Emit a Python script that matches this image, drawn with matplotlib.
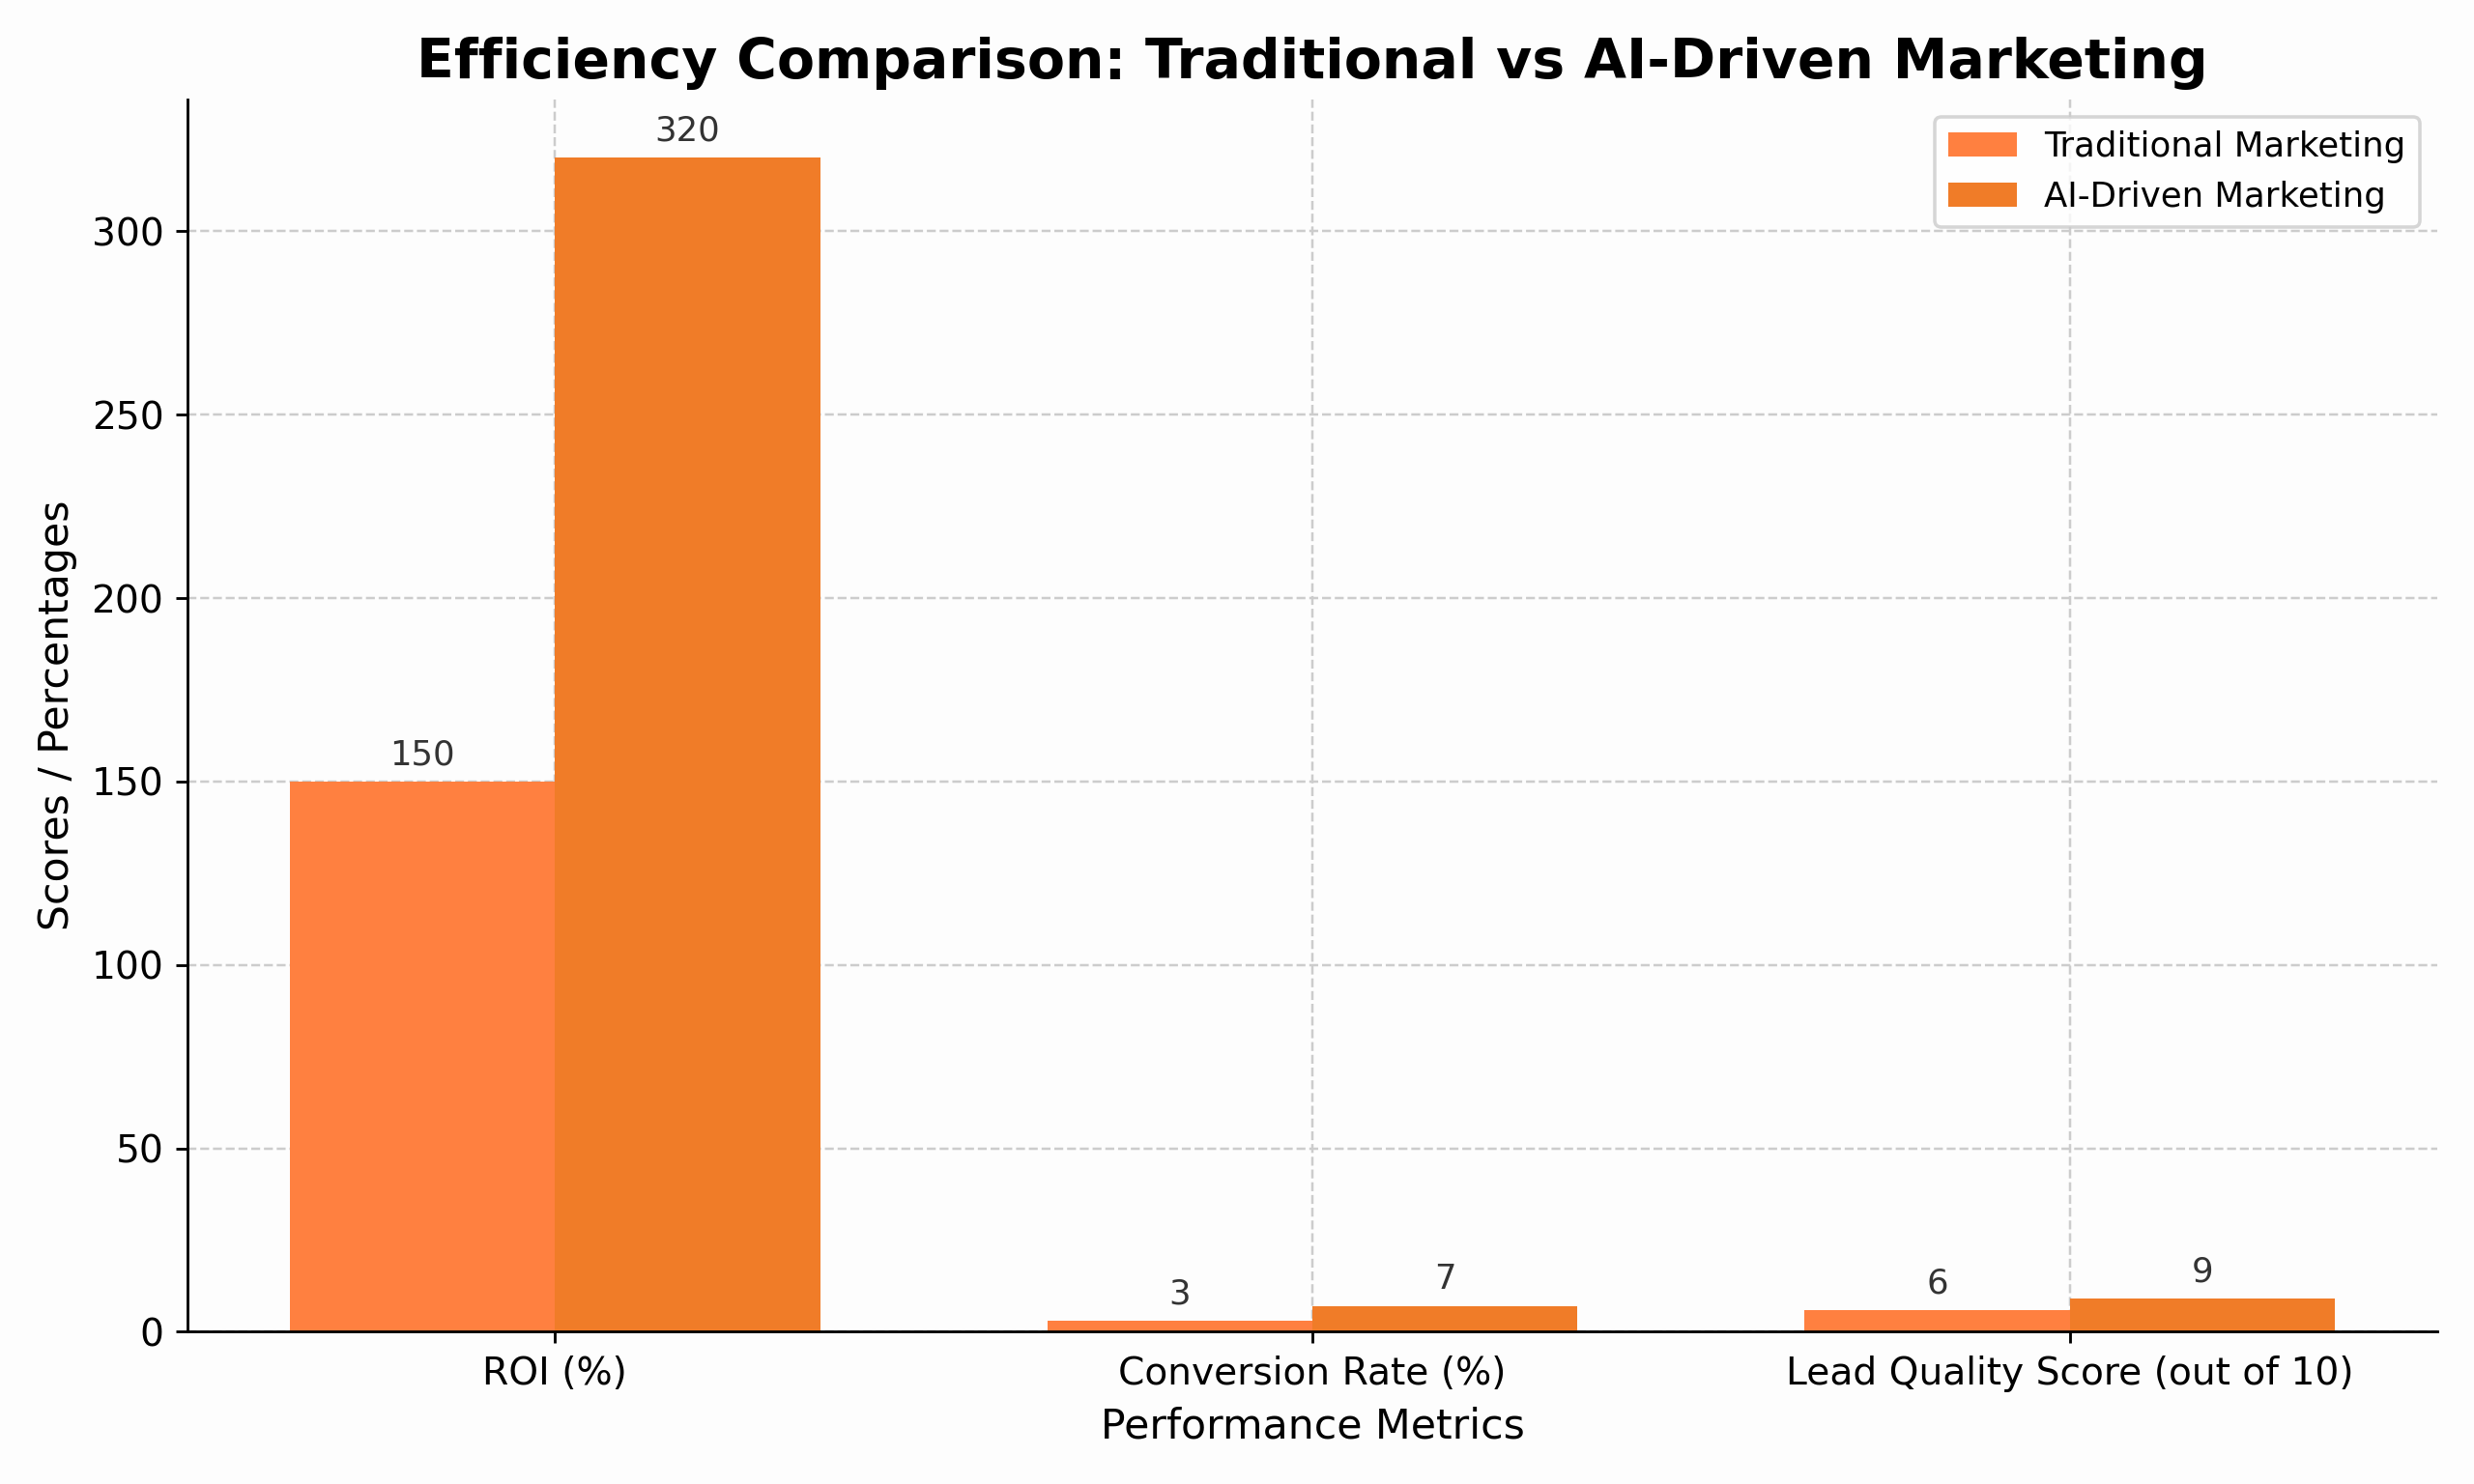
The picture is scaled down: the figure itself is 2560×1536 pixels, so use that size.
import numpy as np
import matplotlib.pyplot as plt

metrics = ["ROI (%)", "Conversion Rate (%)", "Lead Quality Score (out of 10)"]
traditional = [150, 3, 6]
ai_driven = [320, 7, 9]

x = np.arange(len(metrics))
width = 0.35

fig, ax = plt.subplots(figsize=(10, 6), dpi=256)
fig.patch.set_facecolor("#fdfdfd")
ax.set_facecolor("#fdfdfd")

b1 = ax.bar(x - width / 2, traditional, width, color="#ff8040", label="Traditional Marketing")
b2 = ax.bar(x + width / 2, ai_driven, width, color="#f07c28", label="AI-Driven Marketing")

for bars in (b1, b2):
    for b in bars:
        ax.annotate(f"{b.get_height():g}", (b.get_x() + b.get_width() / 2, b.get_height()),
                    xytext=(0, 3), textcoords="offset points", ha="center", va="bottom",
                    fontsize=10, color="#333333")

ax.set_xticks(x)
ax.set_xticklabels(metrics, fontsize=11)
ax.tick_params(axis="y", labelsize=11)
ax.set_xlabel("Performance Metrics", fontsize=12)
ax.set_ylabel("Scores / Percentages", fontsize=12)
ax.set_title("Efficiency Comparison: Traditional vs AI-Driven Marketing", fontsize=16, fontweight="bold")
ax.grid(True, linestyle="--", color="#cccccc", linewidth=0.7)
ax.set_axisbelow(True)
ax.spines["top"].set_visible(False)
ax.spines["right"].set_visible(False)
ax.legend(loc="upper right", fontsize=10)

plt.tight_layout()
plt.savefig("out.png", dpi=256)
